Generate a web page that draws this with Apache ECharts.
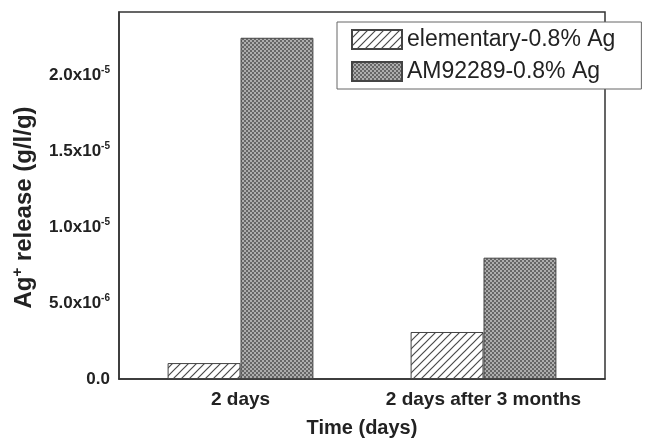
<!DOCTYPE html>
<html>
<head>
<meta charset="utf-8">
<script src="https://cdn.jsdelivr.net/npm/echarts@6/dist/echarts.min.js"></script>
<style>
  html, body { margin: 0; background: #fff; }
  #chart { width: 647px; height: 440px; }
</style>
</head>
<body>
<div id="chart"></div>
<script>
const categories = ["2 days", "2 days after 3 months"];
const seriesNames = ["elementary-0.8% Ag", "AM92289-0.8% Ag"];
const elementary = [1.05e-6, 3.1e-6];
const am92289 = [2.25e-5, 8.0e-6];
const yTicks = [0, 5e-6, 1e-5, 1.5e-5, 2e-5];
const yTickLabels = ["0.0", "5.0x10{e|-6}", "1.0x10{e|-5}", "1.5x10{e|-5}", "2.0x10{e|-5}"];

const font = "'Liberation Sans', Arial, sans-serif";
const ink = "#222";
const frame = "#333";

// hatched fill (////)
function hatchPattern() {
  const c = document.createElement("canvas");
  c.width = 8; c.height = 8;
  const ctx = c.getContext("2d");
  ctx.fillStyle = "#fff";
  ctx.fillRect(0, 0, 8, 8);
  ctx.strokeStyle = "#4a4a4a";
  ctx.lineWidth = 1.2;
  ctx.beginPath();
  ctx.moveTo(-1, 9); ctx.lineTo(9, -1);
  ctx.moveTo(-1, 1); ctx.lineTo(1, -1);
  ctx.moveTo(7, 9); ctx.lineTo(9, 7);
  ctx.stroke();
  return c;
}

// dense checker fill
function checkerPattern() {
  const c = document.createElement("canvas");
  c.width = 4; c.height = 4;
  const ctx = c.getContext("2d");
  ctx.fillStyle = "#adadad";
  ctx.fillRect(0, 0, 4, 4);
  ctx.fillStyle = "#666";
  ctx.fillRect(0, 0, 2, 2);
  ctx.fillRect(2, 2, 2, 2);
  return c;
}

const chart = echarts.init(document.getElementById("chart"));

const option = {
  animation: false,
  grid: {
    left: 119, right: 42, top: 12, bottom: 61,
    outerBoundsMode: "none",
    show: true, borderColor: frame, borderWidth: 1.5,
  },
  legend: {
    orient: "vertical",
    left: 337, top: 22,
    padding: [6, 26, 6, 14],
    icon: "rect",
    itemWidth: 50, itemHeight: 19, itemGap: 9,
    borderColor: "#666", borderWidth: 1,
    backgroundColor: "#fff",
    z: 10,
    data: seriesNames,
    textStyle: { fontFamily: font, fontSize: 23, color: ink, lineHeight: 20 },
  },
  xAxis: [
    {
      type: "category",
      data: categories,
      axisLine: { lineStyle: { color: frame, width: 1.5 } },
      axisTick: { alignWithLabel: true, length: 5, lineStyle: { color: frame, width: 1.5 } },
      axisLabel: { interval: 0, hideOverlap: false, fontFamily: font, fontWeight: "bold", fontSize: 19, color: ink, margin: 11 },
      name: "Time (days)",
      nameLocation: "middle",
      nameGap: 39,
      nameTextStyle: { fontFamily: font, fontWeight: "bold", fontSize: 20, color: ink },
    },
    {
      type: "category",
      data: categories,
      position: "bottom",
      axisLine: { show: false },
      axisTick: { length: 3, lineStyle: { color: frame, width: 1.5 } },
      axisLabel: { show: false },
    },
  ],
  yAxis: [
    {
      type: "value",
      position: "left",
      min: 0, max: 2.42e-5, interval: 5e-6,
      splitLine: { show: false },
      axisLine: { show: true, lineStyle: { color: frame, width: 1.5 } },
      axisTick: { length: 6, lineStyle: { color: frame, width: 1.5 } },
      axisLabel: {
        margin: 9,
        fontFamily: font, fontWeight: "bold", fontSize: 17, color: ink,
        formatter: function (v) {
          for (let i = 0; i < yTicks.length; i++) {
            if (Math.abs(v - yTicks[i]) < 1e-9) return yTickLabels[i];
          }
          return "";
        },
        rich: {
          e: { fontFamily: font, fontWeight: "bold", fontSize: 10, color: ink, verticalAlign: "top", padding: [0, 0, 10, 0] },
        },
      },
      name: "{b|Ag}{s|+}{b| release (g/l/g)}",
      nameLocation: "middle",
      nameGap: 80,
      nameRotate: 90,
      nameTextStyle: {
        padding: [0, 24, 0, 0],
        rich: {
          b: { fontFamily: font, fontWeight: "bold", fontSize: 24, color: ink },
          s: { fontFamily: font, fontWeight: "bold", fontSize: 15, color: ink, verticalAlign: "top", padding: [0, 0, 14, 0] },
        },
      },
    },
    {
      type: "value",
      position: "left",
      min: 0, max: 2.42e-5, interval: 2.5e-6,
      splitLine: { show: false },
      axisLine: { show: false },
      axisTick: { length: 3, lineStyle: { color: frame, width: 1.5 } },
      axisLabel: { show: false },
    },
  ],
  series: [
    {
      name: seriesNames[0],
      type: "bar",
      data: elementary,
      barWidth: "30%",
      barGap: "0%",
      itemStyle: { color: { image: hatchPattern(), repeat: "repeat" }, borderColor: "#444", borderWidth: 1 },
    },
    {
      name: seriesNames[1],
      type: "bar",
      data: am92289,
      barWidth: "30%",
      barGap: "0%",
      itemStyle: { color: { image: checkerPattern(), repeat: "repeat" }, borderColor: "#444", borderWidth: 1 },
    },
  ],
};

chart.setOption(option);
</script>
</body>
</html>
